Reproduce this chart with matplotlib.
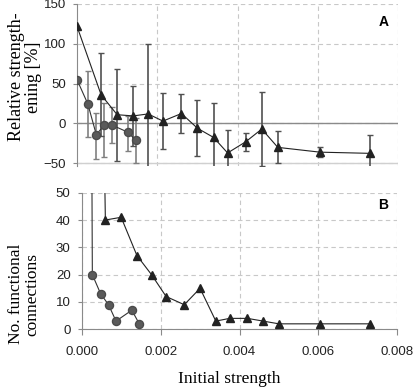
import numpy as np
import matplotlib
matplotlib.use("Agg")
import matplotlib.pyplot as plt

# ---- data ----
tri_x = [0.0, 0.0006, 0.001, 0.0014, 0.00177, 0.00214, 0.0026, 0.003,
         0.0034, 0.00375, 0.0042, 0.0046, 0.005, 0.00605, 0.0073]
tri_rel = [122, 36, 11, 9.5, 12, 3, 12.5, -6, -17.5, -37, -23, -7, -30, -36, -37.5]
tri_err = [180, 52, 57.5, 37.5, 88, 35.5, 25, 35, 43, 29, 11, 47, 20, 6, 23]
tri_n = [600, 40, 41, 27, 20, 12, 9, 15, 3, 4, 4, 3, 2, 2, 2]

circ_x = [0.0, 0.00027, 0.00048, 0.00068, 0.00087, 0.00127, 0.00146]
circ_rel = [55, 24.5, -14, -2, -2, -11, -21]
circ_err_lo = [0, 41, 30, 40, 23, 24, 28]
circ_err_hi = [0, 41, 27, 28, 23, 21, 28]
circ_n = [900, 20, 13, 9, 3, 7, 2]

serif = "Liberation Serif"
sans = "Liberation Sans"
plt.rcParams["font.family"] = sans

fig = plt.figure(figsize=(4.14, 3.88), dpi=100)

grid_kw = dict(color="#c8c8c8", linestyle=(0, (4, 3)), linewidth=0.8)
tick_col = "#222222"
axis_col = "#8a8a8a"

# ---------- panel A ----------
ax1 = fig.add_axes([77 / 414, 1 - 165.7 / 388, 321.3 / 414, 161.7 / 388])
ax1.set_xlim(0, 0.008)
ax1.set_ylim(-53, 150)
ax1.set_yticks([-50, 0, 50, 100, 150])
ax1.set_xticks([0.002, 0.004, 0.006, 0.008])
ax1.grid(True, **grid_kw)
ax1.set_axisbelow(True)
for s in ["top", "right", "bottom"]:
    ax1.spines[s].set_visible(False)
ax1.spines["left"].set_color(axis_col)
ax1.tick_params(axis="x", length=0, labelbottom=False)
ax1.tick_params(axis="y", length=3, color=axis_col, labelsize=9.5,
                labelcolor=tick_col, pad=5)
ax1.axhline(0, color=axis_col, lw=1.0, zorder=1)
ax1.axhline(-50, color="#d0d0d0", lw=1.0, zorder=1)

ax1.errorbar(circ_x, circ_rel, yerr=[circ_err_lo, circ_err_hi], fmt="none",
             ecolor="#808080", elinewidth=1.2, capsize=2.2, capthick=1.0, zorder=2)
ax1.errorbar(tri_x, tri_rel, yerr=tri_err, fmt="none",
             ecolor="#505050", elinewidth=1.2, capsize=2.2, capthick=1.0, zorder=2)
ax1.plot(circ_x, circ_rel, color="#333333", lw=0.8, marker="o", ms=5.8,
         mfc="#5a5a5a", mec="#4a4a4a", zorder=3)
ax1.plot(tri_x, tri_rel, color="#222222", lw=0.8, marker="^", ms=6.2,
         mfc="#222222", mec="#222222", zorder=3)
ax1.text(384 / 414, 1 - 22 / 388, "A", transform=fig.transFigure,
         ha="center", va="center", fontsize=10, fontweight="bold")

# ---------- panel B ----------
ax2 = fig.add_axes([81.7 / 414, 1 - 329.3 / 388, 315.6 / 414, 136.6 / 388])
ax2.set_xlim(0, 0.008)
ax2.set_ylim(0, 50)
ax2.set_yticks([0, 10, 20, 30, 40, 50])
ax2.set_xticks([0, 0.002, 0.004, 0.006, 0.008])
ax2.set_xticklabels(["0.000", "0.002", "0.004", "0.006", "0.008"])
ax2.grid(True, **grid_kw)
ax2.set_axisbelow(True)
for s in ["top", "right"]:
    ax2.spines[s].set_visible(False)
ax2.spines["left"].set_color(axis_col)
ax2.spines["bottom"].set_color(axis_col)
ax2.tick_params(axis="both", length=4, color=axis_col, labelsize=9.5,
                labelcolor=tick_col)
ax2.tick_params(axis="y", length=3, pad=5)
ax2.tick_params(axis="x", pad=8)

ax2.plot(circ_x, circ_n, color="#333333", lw=0.8, marker="o", ms=5.8,
         mfc="#5a5a5a", mec="#4a4a4a", zorder=3)
ax2.plot(tri_x, tri_n, color="#222222", lw=0.8, marker="^", ms=6.2,
         mfc="#222222", mec="#222222", zorder=3)
ax2.text(383 / 414, 1 - 205 / 388, "B", transform=fig.transFigure,
         ha="center", va="center", fontsize=10, fontweight="bold")

# ---------- labels ----------
fig.text(25 / 414, 1 - 77 / 388, "Relative strength-\nening [%]", family=serif,
         fontsize=13, rotation=90, ha="center", va="center",
         multialignment="center", linespacing=1.0)
fig.text(24 / 414, 1 - 294 / 388, "No. functional\nconnections", family=serif,
         fontsize=12.5, rotation=90, ha="center", va="center",
         multialignment="center", linespacing=1.0)
fig.text(229 / 414, 1 - 379 / 388, "Initial strength", family=serif,
         fontsize=12.5, ha="center", va="center")

fig.savefig("out.png", dpi=100)
